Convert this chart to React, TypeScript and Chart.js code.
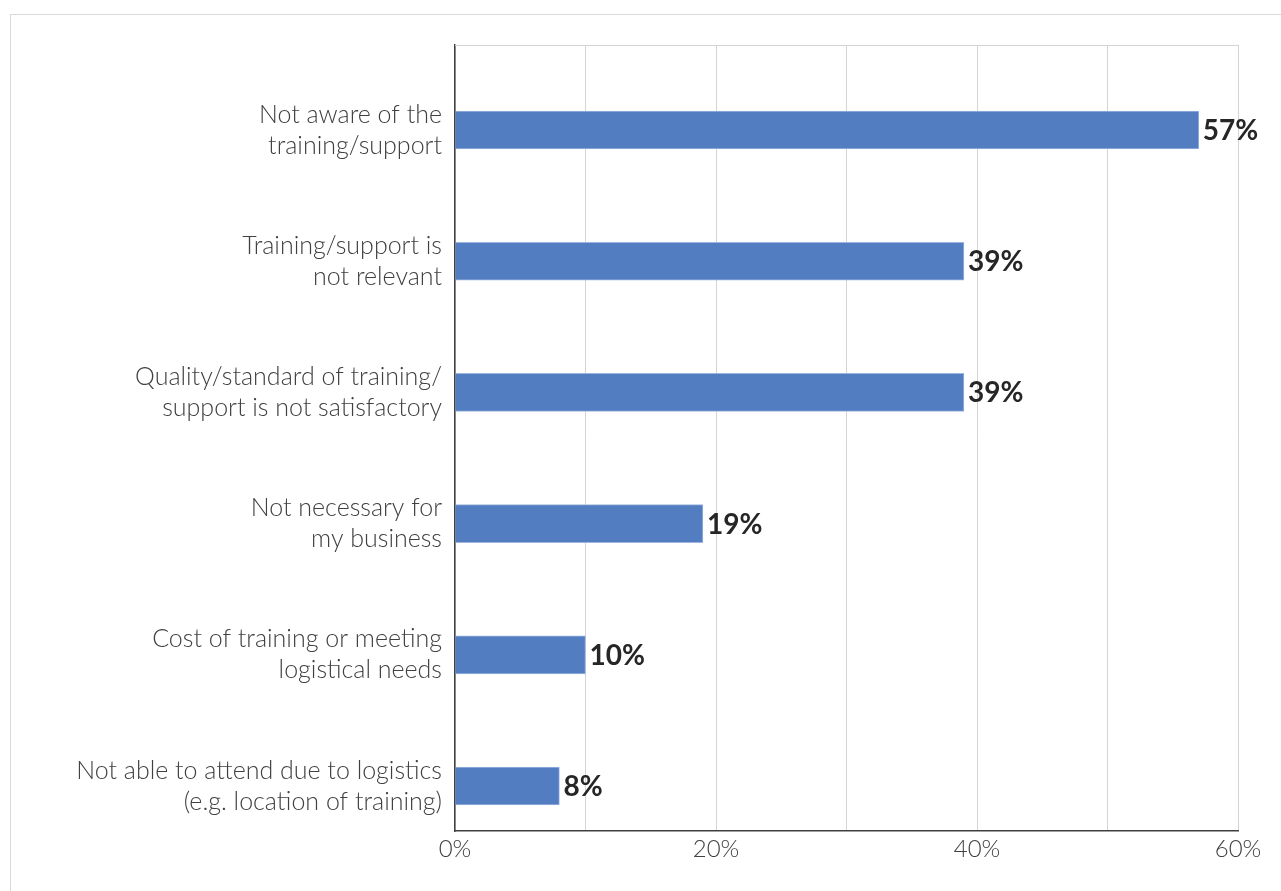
import React, { useEffect, useRef } from "react";
import { Chart, registerables } from "chart.js";

Chart.register(...registerables);

const categories: string[][] = [
  ["Not aware of the", "training/support"],
  ["Training/support is", "not relevant"],
  ["Quality/standard of training/", "support is not satisfactory"],
  ["Not necessary for", "my business"],
  ["Cost of training or meeting", "logistical needs"],
  ["Not able to attend due to logistics", "(e.g. location of training)"],
];
const values: number[] = [57, 39, 39, 19, 10, 8];
const labeledTicks: number[] = [0, 20, 40, 60];

const valueLabels = {
  id: "valueLabels",
  afterDatasetsDraw(chart: any) {
    const ctx = chart.ctx;
    const meta = chart.getDatasetMeta(0);
    ctx.save();
    ctx.font = "bold 28px Lato";
    ctx.fillStyle = "#262626";
    ctx.textAlign = "left";
    ctx.textBaseline = "middle";
    meta.data.forEach((bar: any, i: number) => {
      ctx.fillText(values[i] + "%", bar.x + 4, bar.y + 1);
    });
    ctx.restore();
  },
};

const topBorder = {
  id: "topBorder",
  beforeDatasetsDraw(chart: any) {
    const { ctx, chartArea } = chart;
    ctx.save();
    ctx.strokeStyle = "#d4d4d4";
    ctx.lineWidth = 1;
    ctx.beginPath();
    ctx.moveTo(chartArea.left, chartArea.top + 0.5);
    ctx.lineTo(chartArea.right, chartArea.top + 0.5);
    ctx.stroke();
    ctx.restore();
  },
};

export default function App() {
  const ref = useRef<HTMLCanvasElement>(null);
  useEffect(() => {
    if (!ref.current) return;
    const points = values.map((v, i) => ({ x: v, y: i }));
    const chart = new Chart(ref.current, {
      type: "bar",
      data: {
        datasets: [
          {
            data: points as any,
            backgroundColor: "#527dc0",
            borderColor: "#9db5e0",
            borderWidth: 1,
            barThickness: 38,
          },
        ],
      },
      options: {
        indexAxis: "y",
        animation: false,
        responsive: false,
        maintainAspectRatio: false,
        layout: { padding: { top: 45, right: 43, left: 0, bottom: 0 } },
        plugins: { legend: { display: false }, tooltip: { enabled: false } },
        scales: {
          x: {
            type: "linear",
            min: 0,
            max: 60,
            ticks: {
              stepSize: 10,
              color: "#404040",
              font: { family: "Lato", size: 24, weight: 300 },
              padding: 4,
              callback: (v: any) => (labeledTicks.includes(Number(v)) ? v + "%" : ""),
            },
            grid: { color: "#d4d4d4", drawTicks: false, lineWidth: 1 },
            border: { color: "#404040", width: 1.5 },
            afterFit: (s: any) => {
              s.height = 60;
            },
          },
          y: {
            type: "linear",
            reverse: true,
            offset: false,
            min: -0.648,
            max: 5.343,
            afterBuildTicks: (s: any) => {
              s.ticks = categories.map((_, i) => ({ value: i }));
            },
            ticks: {
              color: "#404040",
              font: { family: "Lato", size: 25, weight: 300, lineHeight: 1.24 },
              padding: 5,
              callback: (v: any) => categories[Number(v)] ?? "",
            },
            grid: { display: false },
            border: { color: "#404040", width: 1.5 },
            afterFit: (s: any) => {
              s.width = 455;
            },
          },
        },
      },
      plugins: [topBorder, valueLabels],
    });
    return () => chart.destroy();
  }, []);
  return (
    <div style={{ position: "absolute", left: 0, top: 0, width: 1281, height: 891, background: "#fff", overflow: "hidden" }}>
      <div
        style={{
          position: "absolute",
          left: 10,
          top: 14,
          width: 1300,
          height: 900,
          border: "1px solid #d9d9d9",
        }}
      />
      <canvas ref={ref} width={1281} height={891} style={{ position: "absolute", left: 0, top: 0, width: 1281, height: 891 }} />
    </div>
  );
}
